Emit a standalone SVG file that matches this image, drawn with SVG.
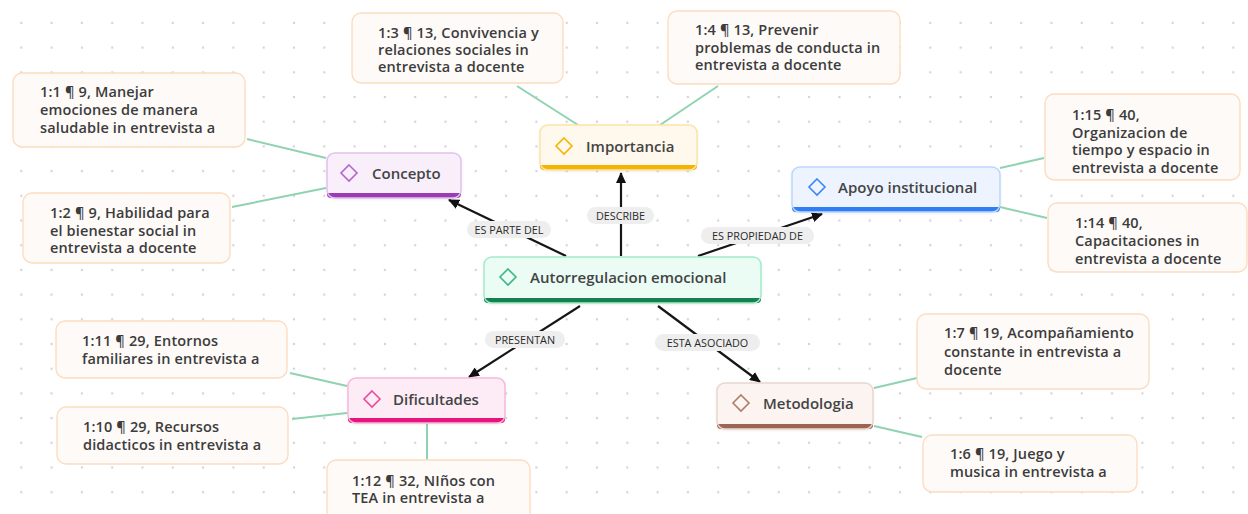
<svg xmlns="http://www.w3.org/2000/svg" width="1248" height="514" viewBox="0 0 1248 514">
<defs>
<pattern id="dots" x="21.3" y="22.9" width="30.3" height="24.7" patternUnits="userSpaceOnUse">
<circle cx="0" cy="0" r="1.2" fill="#d4d4d4"/><circle cx="30.3" cy="0" r="1.2" fill="#d4d4d4"/><circle cx="0" cy="24.7" r="1.2" fill="#d4d4d4"/><circle cx="30.3" cy="24.7" r="1.2" fill="#d4d4d4"/>
</pattern>
<marker id="arr" markerUnits="userSpaceOnUse" markerWidth="11" markerHeight="10" refX="10" refY="5" orient="auto">
<path d="M0,0 L11,5 L0,10 z" fill="#111"/>
</marker>
<filter id="sh" x="-10%" y="-20%" width="120%" height="150%">
<feDropShadow dx="0" dy="1" stdDeviation="1.5" flood-color="#000" flood-opacity="0.12"/>
</filter>
<style>
.q rect{fill:#fdfaf8;stroke:#fddcc0;stroke-width:1.4}
.q text{font-family:"Open Sans","Noto Sans",sans-serif;font-size:14.5px;font-weight:600;fill:#3c3c3c;letter-spacing:0.15px}
.n text{font-family:"Open Sans","Noto Sans",sans-serif;font-size:15px;font-weight:600;fill:#444}
.lk{stroke:#8fd3b0;stroke-width:2;fill:none}
.ed{stroke:#161616;stroke-width:2.2;fill:none;marker-end:url(#arr)}
.lb rect{fill:#eeeeee}
.lb text{font-family:"Open Sans","Noto Sans",sans-serif;font-size:10.8px;font-weight:500;fill:#2a2a2a;text-anchor:middle}
.dm{fill:none;stroke-width:1.6}
</style>
</defs>
<rect width="1248" height="514" fill="#ffffff"/>
<rect width="1248" height="514" fill="url(#dots)"/>

<g id="connectors">
<line class="lk" x1="247" y1="139" x2="326" y2="158"/>
<line class="lk" x1="232" y1="207" x2="326" y2="188"/>
<line class="lk" x1="517" y1="86" x2="578" y2="125"/>
<line class="lk" x1="718" y1="86" x2="660" y2="125"/>
<line class="lk" x1="1000" y1="168" x2="1044" y2="158"/>
<line class="lk" x1="1000" y1="207" x2="1047" y2="218"/>
<line class="lk" x1="290" y1="373" x2="347" y2="386"/>
<line class="lk" x1="292" y1="419" x2="347" y2="413"/>
<line class="lk" x1="427" y1="424" x2="427" y2="460"/>
<line class="lk" x1="874" y1="388" x2="917" y2="378"/>
<line class="lk" x1="874" y1="426" x2="922" y2="437"/>
<line class="ed" x1="566" y1="256" x2="449" y2="200"/>
<line class="ed" x1="621" y1="256" x2="621" y2="173"/>
<line class="ed" x1="698" y1="256" x2="822" y2="214"/>
<line class="ed" x1="580" y1="306" x2="469" y2="377"/>
<line class="ed" x1="658" y1="306" x2="760" y2="382"/>
<g class="lb"><rect x="467" y="221" width="84" height="17" rx="8.5"/><text x="509" y="233.5">ES PARTE DEL</text></g>
<g class="lb"><rect x="587" y="207" width="67" height="17" rx="8.5"/><text x="620.5" y="219.5">DESCRIBE</text></g>
<g class="lb"><rect x="701" y="227" width="113" height="17" rx="8.5"/><text x="757.5" y="239.5">ES PROPIEDAD DE</text></g>
<g class="lb"><rect x="485" y="331" width="80" height="17" rx="8.5"/><text x="525" y="343.5">PRESENTAN</text></g>
<g class="lb"><rect x="655" y="334" width="105" height="17" rx="8.5"/><text x="707.5" y="346.5">ESTA ASOCIADO</text></g>
</g>

<g id="n-central" class="n">
<rect x="484" y="257" width="277" height="46" rx="8" fill="#eafcf4" filter="url(#sh)"/>
<path d="M484,298 H761 V299 A4,4 0 0 1 757,303 H488 A4,4 0 0 1 484,299 Z" fill="#16804f"/>
<rect x="484" y="257" width="277" height="46" rx="8" fill="none" stroke="#a3ecc9" stroke-width="1.5"/>
<path class="dm" d="M508,269 L516,277 L508,285 L500,277 Z" stroke="#3db883"/>
<text x="530" y="282.5">Autorregulacion emocional</text>
</g>

<g id="n-concepto" class="n">
<rect x="327" y="153" width="134" height="45" rx="8" fill="#f8effb" filter="url(#sh)"/>
<path d="M327,193 H461 V194 A4,4 0 0 1 457,198 H331 A4,4 0 0 1 327,194 Z" fill="#9a3cb4"/>
<rect x="327" y="153" width="134" height="45" rx="8" fill="none" stroke="#e4c0f0" stroke-width="1.5"/>
<path class="dm" d="M349,165 L357,173 L349,181 L341,173 Z" stroke="#b466cc"/>
<text x="372" y="178.5">Concepto</text>
</g>

<g id="n-importancia" class="n">
<rect x="540" y="125" width="157" height="45" rx="8" fill="#fff8ec" filter="url(#sh)"/>
<path d="M540,165 H697 V166 A4,4 0 0 1 693,170 H544 A4,4 0 0 1 540,166 Z" fill="#f4b400"/>
<rect x="540" y="125" width="157" height="45" rx="8" fill="none" stroke="#ffe3a6" stroke-width="1.5"/>
<path class="dm" d="M564,138 L572,146 L564,154 L556,146 Z" stroke="#f5b400"/>
<text x="586" y="151.5">Importancia</text>
</g>

<g id="n-apoyo" class="n">
<rect x="792" y="167" width="208" height="45" rx="8" fill="#eef4ff" filter="url(#sh)"/>
<path d="M792,207 H1000 V208 A4,4 0 0 1 996,212 H796 A4,4 0 0 1 792,208 Z" fill="#2f7ef4"/>
<rect x="792" y="167" width="208" height="45" rx="8" fill="none" stroke="#bcd6ff" stroke-width="1.5"/>
<path class="dm" d="M817,179 L825,187 L817,195 L809,187 Z" stroke="#3b86f6"/>
<text x="838" y="192.5">Apoyo institucional</text>
</g>

<g id="n-dificultades" class="n">
<rect x="348" y="378" width="157" height="45" rx="8" fill="#fdecf5" filter="url(#sh)"/>
<path d="M348,418 H505 V419 A4,4 0 0 1 501,423 H352 A4,4 0 0 1 348,419 Z" fill="#e6157e"/>
<rect x="348" y="378" width="157" height="45" rx="8" fill="none" stroke="#f8b8da" stroke-width="1.5"/>
<path class="dm" d="M372,391 L380,399 L372,407 L364,399 Z" stroke="#ea4c9c"/>
<text x="393" y="404.5">Dificultades</text>
</g>

<g id="n-metodologia" class="n">
<rect x="717" y="383" width="156" height="46" rx="8" fill="#fbf4f1" filter="url(#sh)"/>
<path d="M717,424 H873 V425 A4,4 0 0 1 869,429 H721 A4,4 0 0 1 717,425 Z" fill="#9e6452"/>
<rect x="717" y="383" width="156" height="46" rx="8" fill="none" stroke="#ead6cf" stroke-width="1.5"/>
<path class="dm" d="M741,395 L749,403 L741,411 L733,403 Z" stroke="#b07b6a"/>
<text x="763" y="408.5">Metodologia</text>
</g>

<g id="q-1-1" class="q"><rect x="13" y="73" width="232" height="74" rx="9"/><text x="40" y="97">1:1 ¶ 9, Manejar</text><text x="40" y="115">emociones de manera</text><text x="40" y="133">saludable in entrevista a</text></g>
<g id="q-1-2" class="q"><rect x="23" y="193" width="207" height="70" rx="9"/><text x="50" y="218">1:2 ¶ 9, Habilidad para</text><text x="50" y="236">el bienestar social in</text><text x="50" y="253">entrevista a docente</text></g>
<g id="q-1-3" class="q"><rect x="352" y="13" width="211" height="70" rx="9"/><text x="378" y="38">1:3 ¶ 13, Convivencia y</text><text x="378" y="55">relaciones sociales in</text><text x="378" y="72">entrevista a docente</text></g>
<g id="q-1-4" class="q"><rect x="668" y="11" width="232" height="73" rx="9"/><text x="695" y="35">1:4 ¶ 13, Prevenir</text><text x="695" y="53">problemas de conducta in</text><text x="695" y="70">entrevista a docente</text></g>
<g id="q-1-15" class="q"><rect x="1045" y="94" width="195" height="86" rx="9"/><text x="1072" y="120">1:15 ¶ 40,</text><text x="1072" y="138">Organizacion de</text><text x="1072" y="155">tiempo y espacio in</text><text x="1072" y="173">entrevista a docente</text></g>
<g id="q-1-14" class="q"><rect x="1048" y="203" width="199" height="69" rx="9"/><text x="1075" y="228">1:14 ¶ 40,</text><text x="1075" y="246">Capacitaciones in</text><text x="1075" y="264">entrevista a docente</text></g>
<g id="q-1-11" class="q"><rect x="56" y="321" width="231" height="57" rx="9"/><text x="82" y="346">1:11 ¶ 29, Entornos</text><text x="82" y="364">familiares in entrevista a</text></g>
<g id="q-1-10" class="q"><rect x="57" y="407" width="231" height="57" rx="9"/><text x="83" y="432">1:10 ¶ 29, Recursos</text><text x="83" y="450">didacticos in entrevista a</text></g>
<g id="q-1-12" class="q"><rect x="327" y="460" width="203" height="64" rx="9"/><text x="352" y="486">1:12 ¶ 32, NIños con</text><text x="352" y="503">TEA in entrevista a</text></g>
<g id="q-1-7" class="q"><rect x="917" y="314" width="232" height="75" rx="9"/><text x="944" y="338">1:7 ¶ 19, Acompañamiento</text><text x="944" y="357">constante in entrevista a</text><text x="944" y="375">docente</text></g>
<g id="q-1-6" class="q"><rect x="923" y="435" width="214" height="57" rx="9"/><text x="950" y="459">1:6 ¶ 19, Juego y</text><text x="950" y="477">musica in entrevista a</text></g>
</svg>
